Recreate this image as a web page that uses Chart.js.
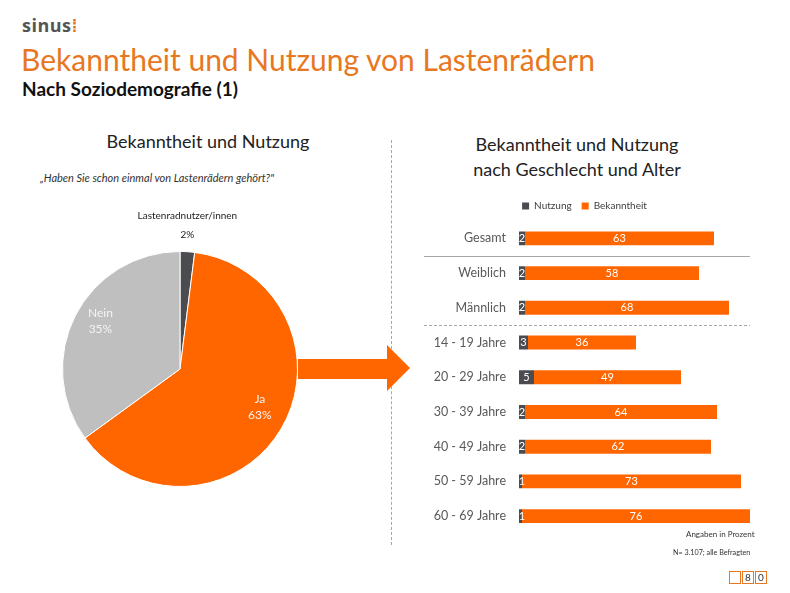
<!DOCTYPE html>
<html>
<head>
<meta charset="utf-8">
<script src="https://cdn.jsdelivr.net/npm/chart.js@4.4.0/dist/chart.umd.min.js"></script>
<style>
  body { margin: 0; background: #fff; font-family: Lato, "Open Sans", sans-serif; }
  #page { position: relative; width: 790px; height: 593px; overflow: hidden; }
  .abs { position: absolute; white-space: nowrap; }
  #logo { left: 22px; top: 13px; font: bold 18px "Open Sans", sans-serif; color: #555; letter-spacing: 0.5px; }
  #logo span { color: #e87722; }
  #title { left: 21px; top: 41px; font-size: 30px; color: #e87722; }
  #subtitle { left: 22px; top: 77px; font-size: 19px; font-weight: bold; color: #111; }
  #pieTitle { left: 60px; top: 130px; width: 296px; text-align: center; font-size: 18px; color: #222; }
  #question { left: 40px; top: 171px; font-size: 11px; font-style: italic; color: #333; }
  #barTitle { left: 420px; top: 132px; width: 314px; text-align: center; font-size: 18px; color: #222; line-height: 25px; }
  #vline { left: 391px; top: 140px; height: 405px; border-left: 1px dashed #a6a6a6; }
  #note1 { left: 686px; top: 529px; font-size: 8px; color: #333; }
  #note2 { left: 673px; top: 548px; font-size: 7.2px; color: #333; }
  .pbox { top: 571px; width: 10px; height: 11px; border: 1px solid #e87722; font-size: 10px; line-height: 11px; text-align: center; color: #333; }
  #pieWrap { left: 50px; top: 200px; width: 260px; height: 293px; }
  #barWrap { left: 410px; top: 191px; width: 360px; height: 355px; }
</style>
</head>
<body>
<div id="page">
  <div id="logo" class="abs">sinus<span>⁞</span></div>
  <div id="title" class="abs">Bekanntheit und Nutzung von Lastenrädern</div>
  <div id="subtitle" class="abs">Nach Soziodemografie (1)</div>
  <div id="pieTitle" class="abs">Bekanntheit und Nutzung</div>
  <div id="question" class="abs">„Haben Sie schon einmal von Lastenrädern gehört?"</div>
  <div id="barTitle" class="abs">Bekanntheit und Nutzung<br>nach Geschlecht und Alter</div>
  <div id="vline" class="abs"></div>
  <svg class="abs" style="left:0;top:0" width="790" height="593">
    <polygon points="298,359 387,359 387,345 410,368 387,391 387,379 298,379" fill="#ff6600"/>
  </svg>
  <div id="pieWrap" class="abs"><canvas id="pieChart"></canvas></div>
  <div id="barWrap" class="abs"><canvas id="barChart"></canvas></div>
  <div id="note1" class="abs">Angaben in Prozent</div>
  <div id="note2" class="abs">N= 3.107; alle Befragten</div>
  <div class="abs pbox" style="left:729px"></div>
  <div class="abs pbox" style="left:742px">8</div>
  <div class="abs pbox" style="left:755px">0</div>
</div>
<script>
// ====== Data ======
const pieLabels = ["Lastenradnutzer/innen", "Ja", "Nein"];
const pieValues = [2, 63, 35];
const pieColors = ["#4a4c50", "#ff6600", "#bfbfbf"];

const categories = ["Gesamt", "Weiblich", "Männlich", "14 - 19 Jahre", "20 - 29 Jahre",
  "30 - 39 Jahre", "40 - 49 Jahre", "50 - 59 Jahre", "60 - 69 Jahre"];
const nutzung = [2, 2, 2, 3, 5, 2, 2, 1, 1];
const bekanntheit = [63, 58, 68, 36, 49, 64, 62, 73, 76];

const FONT = "Lato, 'Open Sans', sans-serif";

// ====== Pie labels ======
const pieLabelPlugin = {
  id: "pieLabels",
  afterDatasetsDraw(chart) {
    const ctx = chart.ctx;
    const meta = chart.getDatasetMeta(0);
    ctx.save();
    ctx.textAlign = "center";
    ctx.textBaseline = "middle";
    meta.data.forEach((arc, i) => {
      const mid = (arc.startAngle + arc.endAngle) / 2;
      const pct = pieValues[i] + "%";
      if (i === 0) {
        // small slice: label above the pie
        const x = arc.x + Math.cos(mid) * arc.outerRadius;
        const y = arc.y - arc.outerRadius;
        ctx.fillStyle = "#222";
        ctx.font = "10px " + FONT;
        ctx.fillText(pieLabels[i], x, y - 36);
        ctx.fillText(pct, x, y - 17);
      } else {
        const r = arc.outerRadius * 0.76;
        const x = arc.x + Math.cos(mid) * r;
        const y = arc.y + Math.sin(mid) * r;
        ctx.fillStyle = "#f4f4f4";
        ctx.font = "12px " + FONT;
        ctx.fillText(pieLabels[i], x + (i === 1 ? 3 : 0), y - 15);
        ctx.fillText(pct, x + (i === 1 ? 3 : 0), y + 1);
      }
    });
    ctx.restore();
  },
};

new Chart(document.getElementById("pieChart"), {
  type: "pie",
  data: {
    labels: pieLabels,
    datasets: [{ data: pieValues, backgroundColor: pieColors, borderColor: "#fff", borderWidth: 1 }],
  },
  options: {
    responsive: true,
    maintainAspectRatio: false,
    animation: false,
    layout: { padding: { left: 12, right: 12, top: 51, bottom: 6 } },
    plugins: { legend: { display: false }, tooltip: { enabled: false } },
  },
  plugins: [pieLabelPlugin],
});

// ====== Bar labels + separators ======
const barExtras = {
  id: "barExtras",
  afterDatasetsDraw(chart) {
    const ctx = chart.ctx;
    const y = chart.scales.y;
    ctx.save();
    // separator lines (canvas coords, canvas starts at page x 410)
    const yA = (y.getPixelForValue(0) + y.getPixelForValue(1)) / 2;
    const yB = (y.getPixelForValue(2) + y.getPixelForValue(3)) / 2;
    ctx.strokeStyle = "#a6a6a6";
    ctx.lineWidth = 1;
    ctx.beginPath();
    ctx.moveTo(14, Math.round(yA) + 0.5);
    ctx.lineTo(340, Math.round(yA) + 0.5);
    ctx.stroke();
    ctx.setLineDash([3, 2]);
    ctx.beginPath();
    ctx.moveTo(14, Math.round(yB) + 0.5);
    ctx.lineTo(340, Math.round(yB) + 0.5);
    ctx.stroke();
    ctx.setLineDash([]);
    // values
    ctx.fillStyle = "#fff";
    ctx.font = "11px " + FONT;
    ctx.textAlign = "center";
    ctx.textBaseline = "middle";
    chart.data.datasets.forEach((ds, di) => {
      chart.getDatasetMeta(di).data.forEach((bar, i) => {
        const cx = (bar.x + bar.base) / 2;
        ctx.fillText(String(ds.data[i]), Math.max(cx, bar.base + 3), bar.y);
      });
    });
    ctx.restore();
  },
};

new Chart(document.getElementById("barChart"), {
  type: "bar",
  data: {
    labels: categories,
    datasets: [
      { label: "Nutzung", data: nutzung, backgroundColor: "#4a4c50" },
      { label: "Bekanntheit", data: bekanntheit, backgroundColor: "#ff6600" },
    ],
  },
  options: {
    indexAxis: "y",
    responsive: true,
    maintainAspectRatio: false,
    animation: false,
    layout: { padding: { right: 11, bottom: 3 } },
    datasets: { bar: { barPercentage: 0.8, categoryPercentage: 0.5 } },
    scales: {
      x: { stacked: true, min: 0, max: 80, display: false },
      y: {
        stacked: true,
        grid: { display: false },
        border: { display: false },
        ticks: { color: "#595959", font: { family: FONT, size: 12.5 }, padding: 5 },
        afterFit(scale) { scale.width = 109; },
      },
    },
    plugins: {
      legend: {
        position: "top",
        labels: { boxWidth: 7, boxHeight: 7, color: "#404040", font: { family: FONT, size: 10 }, padding: 10 },
      },
      tooltip: { enabled: false },
    },
  },
  plugins: [barExtras],
});
</script>
</body>
</html>
